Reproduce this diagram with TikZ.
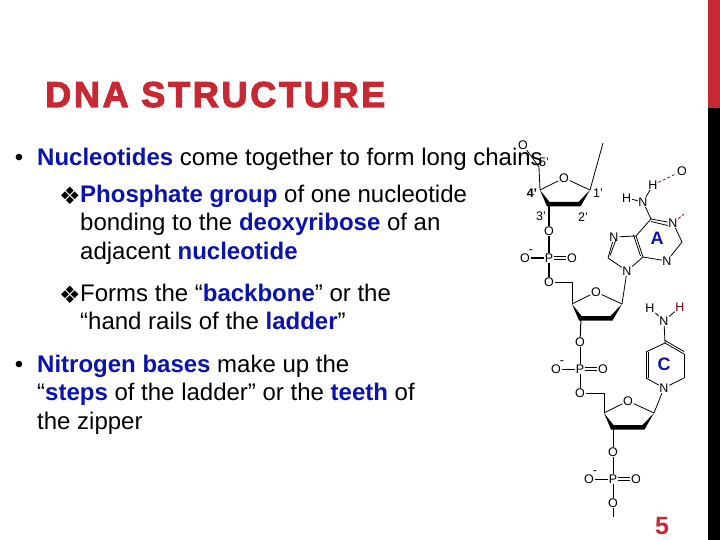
\documentclass[tikz,border=0pt]{standalone}
\usepackage{fontspec}
\usepackage{xcolor}
\setmainfont{Liberation Sans}
\newfontfamily\titlefont[LetterSpace=7.6,FakeBold=3]{Liberation Sans Bold}
\newfontfamily\symfont{DejaVu Sans}
\usetikzlibrary{positioning,calc}
\definecolor{slidered}{RGB}{200,40,50}
\definecolor{keyblue}{RGB}{10,20,170}
\newcommand{\kw}[1]{\textcolor{keyblue}{\textbf{#1}}}
\tikzset{
    para/.style={anchor=north west, inner sep=0pt, align=left, font=\fontsize{24}{28.8}\selectfont},
    bul/.style={anchor=center, inner sep=0pt},
    atom/.style={inner sep=0.6pt, font=\fontsize{12.5}{12.5}\selectfont},
    tag/.style={inner sep=0pt, font=\fontsize{12.5}{12.5}\selectfont},
    base/.style={inner sep=0pt, text=keyblue, font=\bfseries\fontsize{18}{18}\selectfont},
    bond/.style={line width=0.8pt},
    hbond/.style={densely dashed, line width=0.7pt, draw=red!40!black}
}
\begin{document}
\begin{tikzpicture}[x=1pt,y=-1pt]
    \useasboundingbox (0,0) rectangle (720,540);
    % side bar
    \fill[black] (708,108) rectangle (720,540);
    \fill[slidered] (708,0) rectangle (720,108);

    \node (title) [anchor=base west, inner sep=0pt, text=slidered, font=\titlefont\fontsize{36}{36}\selectfont] at (45,107) {DNA STRUCTURE};
    \node (numb) [inner sep=0pt, text=slidered, font=\bfseries\fontsize{25}{25}\selectfont] at (662,526) {5};

    % text
    \node (bulA) [bul, font=\fontsize{24}{24}\selectfont] at (19,160) {•};
    \node (chains) [para] at (37,147.5) {\kw{Nucleotides} come together to form long chains};
    \node (bulB) [bul, font=\symfont\fontsize{24}{24}\selectfont] at (70,196) {❖};
    \node (phos) [para] at (80,184.5) {\kw{Phosphate group} of one nucleotide\\bonding to the \kw{deoxyribose} of an\\adjacent \kw{nucleotide}};
    \node (bulC) [bul, font=\symfont\fontsize{24}{24}\selectfont] at (70,295) {❖};
    \node (back) [para] at (80,283.5) {Forms the “\kw{backbone}” or the\\“hand rails of the \kw{ladder}”};
    \node (bulD) [bul, font=\fontsize{24}{24}\selectfont] at (19,367) {•};
    \node (bases) [para] at (37,354.5) {\kw{Nitrogen bases} make up the\\“\kw{steps} of the ladder” or the \kw{teeth} of\\the zipper};

    % sugars
    \foreach \s/\xa/\ya in {a/540/190,b/572/304,c/604/413} {
        \coordinate (\s4) at (\xa,\ya);
        \node (\s O) [atom] at (\xa+24,\ya-12) {O};
        \coordinate (\s1) at (\xa+50,\ya);
        \coordinate (\s2) at (\xa+39,\ya+14);
        \coordinate (\s3) at (\xa+9,\ya+14);
        \draw[bond] (\s4) -- (\s O) -- (\s1);
        \fill (\s4) -- ($(\s3)+(-2,2.5)$) -- ($(\s2)+(1.5,2.5)$) -- (\s1) -- ($(\s2)+(-0.5,-2)$) -- ($(\s3)+(0.5,-2)$) -- cycle;
    }
    \node (t4) [tag, font=\bfseries\fontsize{12.5}{12.5}\selectfont] at (532,193) {4'};
    \node (t1) [tag] at (598,193) {1'};
    \node (t3) [tag] at (541,216) {3'};
    \node (t2) [tag] at (583,217) {2'};
    \node (t5) [tag] at (544,162) {5'};

    % phosphates
    \foreach \p/\xa/\ya/\lw in {a/549/258/1.4pt,b/580/369/1pt,c/613/479/0.8pt} {
        \node (\p P) [atom] at (\xa,\ya) {P};
        \node (\p T) [atom] at (\xa,\ya-27) {O};
        \node (\p B) [atom] at (\xa,\ya+24) {O};
        \node (\p L) [atom] at (\xa-24,\ya) {O};
        \node (\p R) [atom] at (\xa+23,\ya) {O};
        \node (\p M) [tag] at (\xa-18,\ya-6) {-};
        \draw[line width=\lw] (\p3) -- (\p T);
        \draw[line width=\lw] (\p T) -- (\p P);
        \draw[line width=\lw] (\p P) -- (\p B);
        \draw[line width=\lw] (\p L) -- (\p P);
        \draw[bond] ([yshift=1.6pt]\p P.east) -- ([yshift=1.6pt]\p R.west);
        \draw[bond] ([yshift=-1.6pt]\p P.east) -- ([yshift=-1.6pt]\p R.west);
    }
    \draw[bond] (aB) -| (b4);
    \draw[bond] (bB) -| (c4);

    % top and bottom ends
    \node (topO) [atom] at (523,145) {O};
    \coordinate (c5) at (539,167);
    \draw[bond] (topO) -- (c5) -- (a4);
    \coordinate (topend) at (603,143);
    \draw[bond] (a1) -- (topend);
    \coordinate (botend) at (613,517);
    \draw[bond] (cB) -- (botend);

    % adenine
    \node (aN9) [atom] at (627,271) {N};
    \coordinate (aC4) at (643,257);
    \coordinate (aC5) at (636,236);
    \node (aN7) [atom] at (614,237) {N};
    \coordinate (aC8) at (608,258);
    \coordinate (aC6) at (651,219);
    \node (aN1) [atom] at (673,223) {N};
    \coordinate (aC2) at (682,242);
    \node (aN3) [atom] at (667,261) {N};
    \node (aN) [atom] at (643,202) {N};
    \node (aH) [atom, anchor=east] at (632,198) {H};
    \node (aHb) [atom] at (653,185) {H};
    \node (aOx) [atom] at (682,171) {O};
    \coordinate (aNx) at (684,214);
    \node (aLab) [base] at (657,238) {A};
    \draw[bond] (b1) -- (aN9);
    \draw[bond] (aN9) -- (aC4) -- (aN3);
    \draw[bond] (aN9) -- (aC8);
    \draw[bond] (aC8) -- (aN7);
    \draw[bond] ([xshift=2pt,yshift=2.5pt]aC8) -- ([xshift=2pt,yshift=2.5pt]aN7.south);
    \draw[bond] (aN7) -- (aC5);
    \draw[bond] (aC5) -- (aC4);
    \draw[bond] ([xshift=-2.5pt,yshift=1pt]aC5) -- ([xshift=-2.5pt,yshift=1pt]aC4);
    \draw[bond] (aC5) -- (aC6);
    \draw[bond] (aC6) -- (aN1);
    \draw[bond] ([yshift=-2.5pt]aC6) -- ([yshift=-2.5pt]aN1.west);
    \draw[bond] (aN1) -- (aC2);
    \draw[bond] (aC2) -- (aN3);
    \draw[bond] (aC6) -- (aN);
    \draw[bond] (aN) -- (aH);
    \draw[bond] (aN) -- (aHb);
    \draw[hbond] (aHb) -- (aOx);
    \draw[hbond] (aN1) -- (aNx);

    % cytosine
    \node (cN1) [atom] at (664,388) {N};
    \coordinate (cC6) at (646,378);
    \coordinate (cC5) at (646,352);
    \coordinate (cC4) at (665,343);
    \coordinate (cC3) at (684,354);
    \coordinate (cC2) at (684,378);
    \node (cN) [atom] at (664,321) {N};
    \node (cHa) [atom] at (650,308) {H};
    \node (cHb) [atom, text=red!40!black] at (680,307) {H};
    \node (cLab) [base] at (664,364) {C};
    \draw[bond] (c1) -- (cN1);
    \draw[bond] (cN1) -- (cC6);
    \draw[bond] (cC6) -- (cC5);
    \draw[bond] ([xshift=2.5pt]cC6) -- ([xshift=2.5pt]cC5);
    \draw[bond] (cC5) -- (cC4);
    \draw[bond] (cC4) -- (cC3);
    \draw[bond] ([yshift=2.5pt]cC4) -- ([yshift=2.5pt]cC3);
    \draw[bond] (cC3) -- (cC2);
    \draw[bond] (cC2) -- (cN1);
    \draw[bond] (cC4) -- (cN);
    \draw[bond] (cN) -- (cHa);
    \draw[bond] (cN) -- (cHb);
\end{tikzpicture}
\end{document}
